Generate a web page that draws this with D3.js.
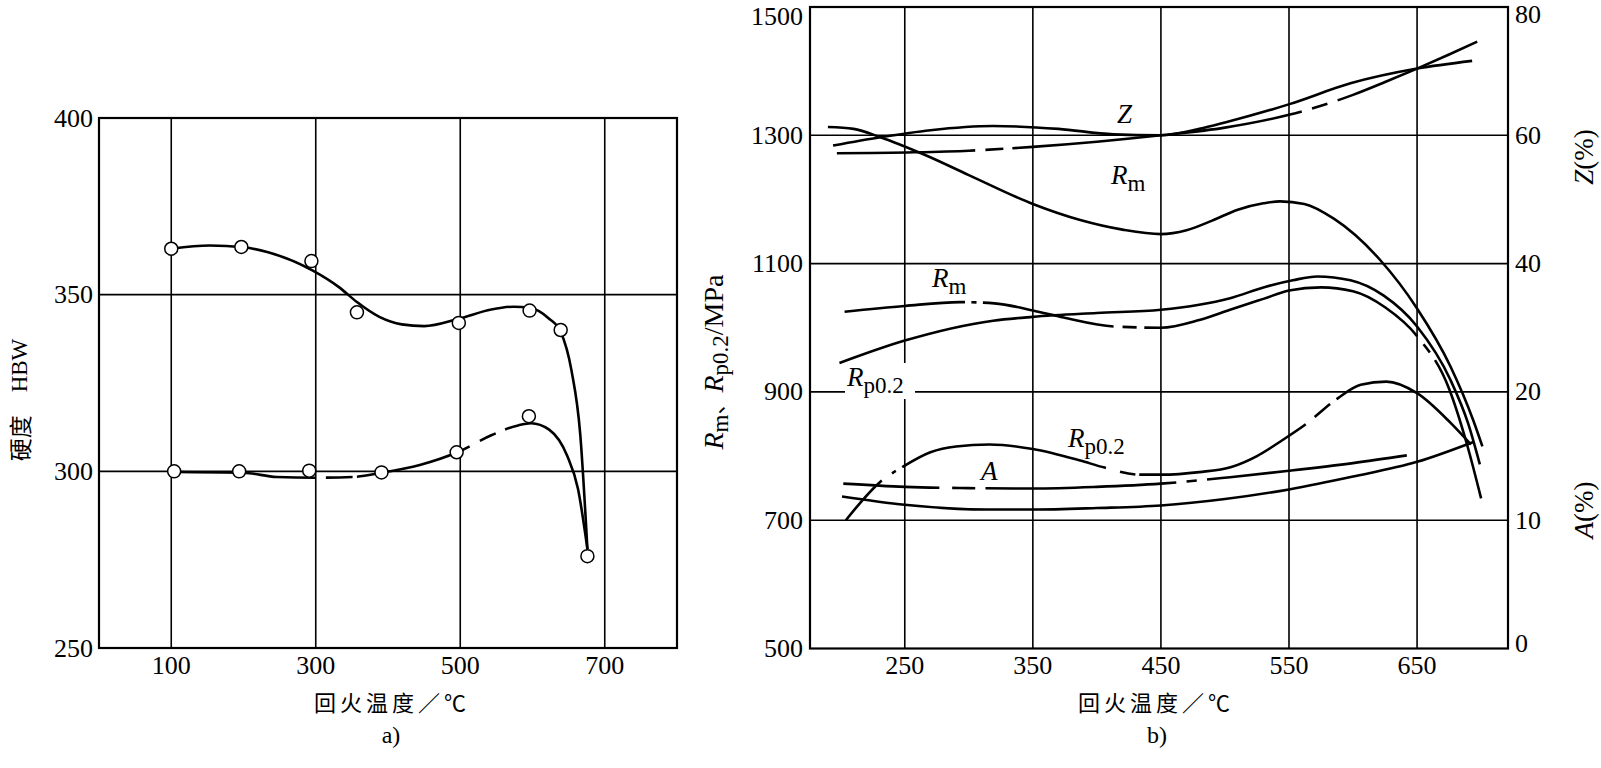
<!DOCTYPE html>
<html>
<head>
<meta charset="utf-8">
<script src="https://cdn.jsdelivr.net/npm/d3@7"></script>
<style>
  body { margin: 0; background: #fff; }
  text { fill: #000; }
</style>
</head>
<body>
<script>
// ---------- chart a) hardness ----------
const hbwTicksX = [100, 300, 500, 700]
const hbwTicksY = [250, 300, 350, 400]
const hbwGridY = [300, 350]
// measured points (circles)
const hbwUpperPts = [[100, 363], [197, 363.5], [294, 359.5], [357, 345], [498, 342], [596, 345.5], [639, 340], [676, 276]]
const hbwLowerPts = [[104, 300], [194, 300], [291, 300.2], [391, 299.7], [495, 305.4], [595, 315.6]]
// fitted curves
const hbwUpperCurve = [[100, 363], [153, 363.9], [200, 363.4], [234, 362], [296, 356.8], [333, 352], [357, 347.9], [388, 343.7], [419, 341.6], [450, 341.1], [498, 343.2], [543, 345.8], [574, 346.6], [596, 346.3], [623, 343.2], [639, 339.5], [654, 328.5], [666, 310.7], [676, 278]]
const hbwLowerCurve = [[104, 299.8], [200, 299.6], [246, 298.4], [299, 298.2], [351, 298.4], [391, 299.6], [444, 301.8], [496, 305.4], [543, 310.2], [580, 313], [598, 313.6], [623, 311.8], [648, 304.4], [663, 295], [676, 278]]
const hbwLowerGaps = [[299, 314], [351, 357], [513, 527], [549, 562]]

// ---------- chart b) strength ----------
const mpaTicksX = [250, 350, 450, 550, 650]
const mpaTicksY = [500, 700, 900, 1100, 1300, 1500]
const mpaGridY = [700, 900, 1100, 1300]
const zTicks = [80, 60, 40, 20]
const aTicks = [10, 0]

const rm1 = [[190, 1313], [210, 1310], [231, 1297], [265, 1270], [300, 1238], [350, 1193], [387, 1168], [420, 1153], [450, 1146], [470, 1152], [490, 1167], [510, 1184], [530, 1194], [543, 1197], [562, 1193], [585, 1170], [621, 1106], [650, 1030], [676, 940], [694, 855], [701, 815]]
const rm2 = [[203, 1025], [250, 1034], [293, 1040], [320, 1038], [350, 1027], [374, 1016], [413, 1002], [450, 1000], [480, 1012], [504, 1028], [530, 1045], [550, 1058], [575, 1063], [600, 1057], [625, 1032], [650, 987], [675, 905], [689, 818], [700, 734]]
const rm2Gaps = [[297, 302], [306, 311], [413, 420], [431, 437], [650, 655], [660, 664]]
const rp1 = [[204, 700], [231, 760], [249, 784], [270, 806], [290, 815], [316, 818], [350, 811], [387, 793], [406, 782], [434, 771], [450, 771], [480, 775], [505, 783], [525, 800], [545, 825], [562, 848], [588, 890], [606, 911], [626, 916], [650, 898], [676, 852], [692, 818]]
const rp1Gaps = [[232, 240], [243, 248], [407, 418], [430, 433], [563, 570], [582, 587]]
const rp2 = [[199, 945], [250, 980], [319, 1011], [350, 1017], [400, 1023], [450, 1028], [504, 1046], [532, 1064], [553, 1074], [572, 1080], [598, 1074], [624, 1050], [650, 1002], [676, 919], [690, 850], [699, 787]]
// Z (%) curves
const z1 = [[194, 58.4], [231, 59.7], [270, 60.8], [319, 61.45], [370, 61.0], [413, 60.15], [450, 60.0], [480, 61.0], [500, 62.0], [551, 64.9], [598, 68.1], [650, 70.4], [693, 71.6]]
const z2 = [[197, 57.2], [257, 57.35], [300, 57.6], [350, 58.2], [400, 59.0], [450, 60.0], [500, 61.2], [550, 63.2], [575, 64.6], [600, 66.3], [625, 68.3], [650, 70.4], [675, 72.6], [697, 74.6]]
const z2Gaps = [[305, 313], [327, 334], [560, 568], [580, 588]]
// A (%) curves
const a1 = [[202, 12.85], [250, 12.6], [300, 12.5], [350, 12.47], [400, 12.6], [450, 12.85], [504, 13.35], [550, 13.85], [600, 14.45], [642, 15.05]]
const a1Gaps = [[277, 287], [305, 313], [462, 470], [478, 486]]
const a2 = [[201, 11.85], [250, 11.2], [314, 10.83], [350, 10.83], [400, 10.95], [450, 11.15], [500, 11.65], [550, 12.4], [600, 13.4], [650, 14.55], [694, 16.1]]

const SERIF = "'Liberation Serif', 'DejaVu Serif', serif"
const CJK = "'Noto Sans CJK SC', sans-serif"

const svg = d3.select("body").append("svg")
  .attr("width", 1601)
  .attr("height", 768)

// break a solid path into dashes at given x ranges
function applyGaps(path, gaps, xs) {
  const node = path.node()
  const total = node.getTotalLength()
  const lenAt = v => {
    const px = xs(v)
    let lo = 0, hi = total
    for (let i = 0; i < 40; i++) {
      const mid = (lo + hi) / 2
      if (node.getPointAtLength(mid).x < px) lo = mid
      else hi = mid
    }
    return lo
  }
  const arr = []
  let pos = 0
  gaps.forEach(([a, b]) => {
    const la = lenAt(a), lb = lenAt(b)
    arr.push(la - pos, lb - la)
    pos = lb
  })
  arr.push(total - pos + 5, 0)
  path.attr("stroke-dasharray", arr.join(" "))
}

function drawCurve(g, data, xs, ys, gaps) {
  const line = d3.line().x(d => xs(d[0])).y(d => ys(d[1])).curve(d3.curveMonotoneX)
  const p = g.append("path")
    .attr("d", line(data))
    .attr("fill", "none")
    .attr("stroke", "#000")
    .attr("stroke-width", 2.6)
    .attr("stroke-linecap", "butt")
  if (gaps) applyGaps(p, gaps, xs)
  return p
}

/******************** a) ********************/
const xL = d3.scaleLinear().domain([0, 800]).range([99, 677])
const yL = d3.scaleLinear().domain([250, 400]).range([648, 118])
const gA = svg.append("g")

gA.selectAll(".vg").data(hbwTicksX).enter().append("line")
  .attr("x1", d => xL(d)).attr("x2", d => xL(d))
  .attr("y1", yL(250)).attr("y2", yL(400))
  .attr("stroke", "#000").attr("stroke-width", 1.6)
gA.selectAll(".hg").data(hbwGridY).enter().append("line")
  .attr("x1", xL(0)).attr("x2", xL(800))
  .attr("y1", d => yL(d)).attr("y2", d => yL(d))
  .attr("stroke", "#000").attr("stroke-width", 1.6)
gA.append("rect")
  .attr("x", xL(0)).attr("y", yL(400))
  .attr("width", xL(800) - xL(0)).attr("height", yL(250) - yL(400))
  .attr("fill", "none").attr("stroke", "#000").attr("stroke-width", 2.2)

gA.selectAll(".xt").data(hbwTicksX).enter().append("text")
  .attr("x", d => xL(d)).attr("y", 665)
  .attr("text-anchor", "middle").attr("dominant-baseline", "central")
  .style("font", `26px ${SERIF}`).text(d => d)
gA.selectAll(".yt").data(hbwTicksY).enter().append("text")
  .attr("x", 93).attr("y", d => yL(d))
  .attr("text-anchor", "end").attr("dominant-baseline", "central")
  .style("font", `26px ${SERIF}`).text(d => d)

drawCurve(gA, hbwUpperCurve, xL, yL)
drawCurve(gA, hbwLowerCurve, xL, yL, hbwLowerGaps)

gA.selectAll(".pt").data(hbwUpperPts.concat(hbwLowerPts)).enter().append("circle")
  .attr("cx", d => xL(d[0])).attr("cy", d => yL(d[1]))
  .attr("r", 6.5).attr("fill", "#fff").attr("stroke", "#000").attr("stroke-width", 1.5)

gA.append("text")
  .attr("transform", "translate(19,400) rotate(-90)")
  .attr("text-anchor", "middle").attr("dominant-baseline", "central")
  .style("font", `23px ${CJK}`)
  .text("硬度\u2002\u2002")
  .append("tspan").style("font-family", SERIF).text("HBW")

gA.append("text")
  .attr("x", 392).attr("y", 701)
  .attr("text-anchor", "middle").attr("dominant-baseline", "central")
  .style("font", `22px ${CJK}`).attr("letter-spacing", 4)
  .text("回火温度／℃")
gA.append("text")
  .attr("x", 391).attr("y", 735)
  .attr("text-anchor", "middle").attr("dominant-baseline", "central")
  .style("font", `24px ${SERIF}`).text("a)")

/******************** b) ********************/
const xR = d3.scaleLinear().domain([176, 721]).range([810, 1508])
const yR = d3.scaleLinear().domain([500, 1500]).range([648.5, 7])
const zS = d3.scaleLinear().domain([0, 80]).range([yR(700), yR(1500)])
const aS = d3.scaleLinear().domain([0, 20]).range([yR(500), yR(900)])
const gB = svg.append("g")

gB.selectAll(".vg").data(mpaTicksX).enter().append("line")
  .attr("x1", d => xR(d)).attr("x2", d => xR(d))
  .attr("y1", yR(500)).attr("y2", yR(1500))
  .attr("stroke", "#000").attr("stroke-width", 1.6)
gB.selectAll(".hg").data(mpaGridY).enter().append("line")
  .attr("x1", xR(176)).attr("x2", xR(721))
  .attr("y1", d => yR(d)).attr("y2", d => yR(d))
  .attr("stroke", "#000").attr("stroke-width", 1.6)
gB.append("rect")
  .attr("x", xR(176)).attr("y", yR(1500))
  .attr("width", xR(721) - xR(176)).attr("height", yR(500) - yR(1500))
  .attr("fill", "none").attr("stroke", "#000").attr("stroke-width", 2.2)

gB.selectAll(".xt").data(mpaTicksX).enter().append("text")
  .attr("x", d => xR(d)).attr("y", 665)
  .attr("text-anchor", "middle").attr("dominant-baseline", "central")
  .style("font", `26px ${SERIF}`).text(d => d)
gB.selectAll(".yt").data(mpaTicksY).enter().append("text")
  .attr("x", 803).attr("y", d => Math.max(yR(d), 16))
  .attr("text-anchor", "end").attr("dominant-baseline", "central")
  .style("font", `26px ${SERIF}`).text(d => d)
gB.selectAll(".zt").data(zTicks).enter().append("text")
  .attr("x", 1515).attr("y", d => Math.max(zS(d), 14))
  .attr("dominant-baseline", "central")
  .style("font", `26px ${SERIF}`).text(d => d)
gB.selectAll(".at").data(aTicks).enter().append("text")
  .attr("x", 1515).attr("y", d => Math.min(aS(d), 643))
  .attr("dominant-baseline", "central")
  .style("font", `26px ${SERIF}`).text(d => d)

// curves
drawCurve(gB, z1, xR, zS)
drawCurve(gB, z2, xR, zS, z2Gaps)
drawCurve(gB, rm1, xR, yR)
drawCurve(gB, rm2, xR, yR, rm2Gaps)
drawCurve(gB, rp2, xR, yR)
drawCurve(gB, rp1, xR, yR, rp1Gaps)
drawCurve(gB, a1, xR, aS, a1Gaps)
drawCurve(gB, a2, xR, aS)

// in-plot labels
function subLabel(g, x, y, main, sub) {
  const t = g.append("text").attr("x", x).attr("y", y).style("font", `27px ${SERIF}`)
  t.append("tspan").style("font-style", "italic").text(main)
  if (sub) t.append("tspan").attr("dy", 7).style("font-size", "23px").text(sub)
  return t
}
gB.append("rect").attr("x", 845).attr("y", 363).attr("width", 70).attr("height", 36).attr("fill", "#fff")
subLabel(gB, 1117, 123, "Z")
subLabel(gB, 1111, 184, "R", "m")
subLabel(gB, 932, 287, "R", "m")
subLabel(gB, 847, 386, "R", "p0.2")
subLabel(gB, 1068, 447, "R", "p0.2")
subLabel(gB, 981, 480, "A")

// axis titles
const yt = gB.append("text")
  .attr("transform", "translate(713,362) rotate(-90)")
  .attr("text-anchor", "middle").attr("dominant-baseline", "central")
  .style("font", `28px ${SERIF}`)
yt.append("tspan").style("font-style", "italic").text("R")
yt.append("tspan").attr("dy", 7).style("font-size", "23px").text("m")
yt.append("tspan").attr("dy", -7).style("font-family", CJK).style("font-size", "22px").text("、")
yt.append("tspan").style("font-style", "italic").text("R")
yt.append("tspan").attr("dy", 7).style("font-size", "23px").text("p0.2")
yt.append("tspan").attr("dy", -7).text("/MPa")

const zt = gB.append("text")
  .attr("transform", "translate(1584,157) rotate(-90)")
  .attr("text-anchor", "middle").attr("dominant-baseline", "central")
  .style("font", `27px ${SERIF}`)
zt.append("tspan").style("font-style", "italic").text("Z")
zt.append("tspan").text("(%)")
const at = gB.append("text")
  .attr("transform", "translate(1584,510) rotate(-90)")
  .attr("text-anchor", "middle").attr("dominant-baseline", "central")
  .style("font", `27px ${SERIF}`)
at.append("tspan").style("font-style", "italic").text("A")
at.append("tspan").text("(%)")

gB.append("text")
  .attr("x", 1156).attr("y", 701)
  .attr("text-anchor", "middle").attr("dominant-baseline", "central")
  .style("font", `22px ${CJK}`).attr("letter-spacing", 4)
  .text("回火温度／℃")
gB.append("text")
  .attr("x", 1157).attr("y", 735)
  .attr("text-anchor", "middle").attr("dominant-baseline", "central")
  .style("font", `24px ${SERIF}`).text("b)")
</script>
</body>
</html>
